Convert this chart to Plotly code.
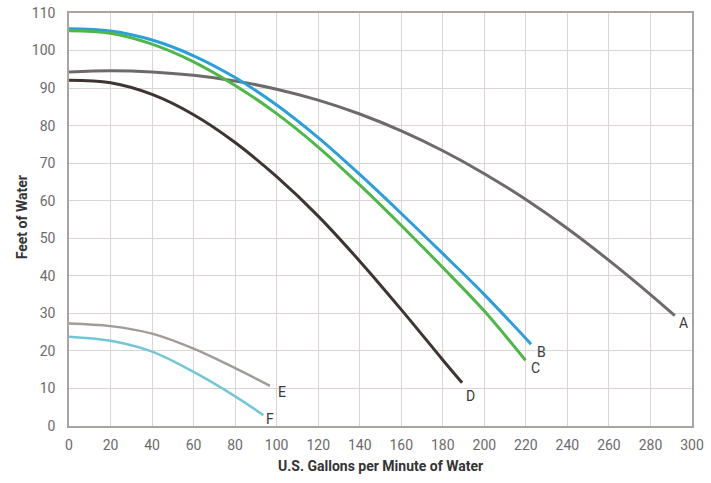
import plotly.graph_objects as go

# Pump curves: flow (US GPM) vs head (feet of water)
a_x = [0, 20, 40, 60, 80, 100, 120, 140, 160, 180, 200, 220, 240, 260, 280, 291.7]
a_y = [94.3, 94.6, 94.3, 93.4, 91.9, 89.7, 86.8, 83.1, 78.6, 73.3, 67.2, 60.3, 52.6, 44.1, 35.0, 29.4]

b_x = [0, 20, 40, 60, 80, 100, 120, 140, 160, 180, 200, 222.5]
b_y = [105.8, 105.2, 102.8, 98.6, 92.8, 85.5, 76.8, 67.0, 56.6, 45.9, 35.0, 21.8]

c_x = [0, 20, 40, 60, 80, 100, 120, 140, 160, 180, 200, 219.8]
c_y = [105.3, 104.6, 101.7, 97.0, 90.7, 83.2, 74.3, 64.2, 53.4, 42.2, 30.6, 17.5]

d_x = [0, 20, 40, 60, 80, 100, 120, 140, 160, 180, 189.3]
d_y = [92.1, 91.4, 88.3, 82.9, 75.5, 66.4, 55.9, 43.9, 31.0, 17.6, 11.5]

e_x = [0, 20, 40, 60, 80, 96.8]
e_y = [27.3, 26.6, 24.6, 20.6, 15.4, 10.7]

f_x = [0, 20, 40, 60, 80, 93.6]
f_y = [23.8, 22.7, 19.8, 14.4, 7.9, 2.9]

curve_names = ["A", "B", "C", "D", "E", "F"]
x_ticks = list(range(0, 301, 20))
y_ticks = list(range(0, 111, 10))

colors = ["#6e6a6b", "#2a9fdc", "#4db848", "#3e3432", "#a39b99", "#72c7d6"]
widths = [3, 3, 3, 3, 2.5, 2.5]
series = [(a_x, a_y), (b_x, b_y), (c_x, c_y), (d_x, d_y), (e_x, e_y), (f_x, f_y)]
label_offsets = [(9, -7), (10, -8), (10, -8), (8, -13), (12, -6), (7, -4)]

fig = go.Figure()
for (xs, ys), name, col, w in zip(series, curve_names, colors, widths):
    fig.add_trace(go.Scatter(x=xs, y=ys, mode="lines", name=name,
                             line=dict(color=col, width=w, shape="spline", smoothing=1.0),
                             showlegend=False, hoverinfo="skip"))

for (xs, ys), name, (dx, dy) in zip(series, curve_names, label_offsets):
    fig.add_annotation(x=xs[-1], y=ys[-1], text=name, showarrow=False,
                       xshift=dx, yshift=dy, xanchor="center", yanchor="middle",
                       font=dict(family="Roboto", size=14, color="#3a3a3a"))

axis_common = dict(showgrid=True, gridcolor="#dcd4d2", gridwidth=1,
                   showline=True, linecolor="#a9a3a1", linewidth=1.5, mirror=True,
                   zeroline=False, ticks="", automargin=False,
                   tickfont=dict(family="Roboto", size=14, color="#6b6b6b"))

fig.update_xaxes(range=[0, 300], tickvals=x_ticks, ticklabelstandoff=5, **axis_common)
fig.update_yaxes(range=[0, 110], tickvals=y_ticks, ticklabelstandoff=9, **axis_common)

fig.add_annotation(text="<b>U.S. Gallons per Minute of Water</b>", xref="paper", yref="paper",
                   x=0.5, y=-0.097, xanchor="center", yanchor="middle", showarrow=False,
                   font=dict(family="Roboto", size=14, color="#333333"))
fig.add_annotation(text="<b>Feet of Water</b>", xref="paper", yref="paper",
                   x=-0.074, y=0.505, xanchor="center", yanchor="middle", showarrow=False,
                   textangle=-90,
                   font=dict(family="Roboto", size=14, color="#333333"))

fig.update_layout(width=711, height=483,
                  margin=dict(l=69, r=19, t=13, b=57),
                  paper_bgcolor="white", plot_bgcolor="white",
                  hovermode=False)

# remove the browser's default 8px body margin so the figure sits at the page origin
fig.write_html("out.html", config={"displayModeBar": False},
               post_script="document.body.style.margin='0';")
